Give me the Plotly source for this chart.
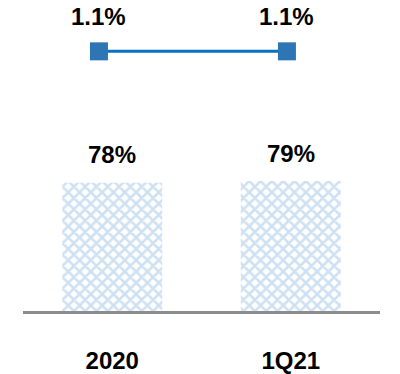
import plotly.graph_objects as go

categories = ["2020", "1Q21"]
bar_values = [78, 79]
bar_labels = ["78%", "79%"]
line_values = [1.1, 1.1]
line_labels = ["1.1%", "1.1%"]

FONT = "Liberation Sans"

fig = go.Figure()
fig.add_trace(go.Bar(
    x=categories, y=bar_values, width=0.56,
    marker=dict(color="white", line=dict(width=0),
                pattern=dict(shape="x", fgcolor="#9DC3E6", bgcolor="white", size=8, solidity=0.55)),
    hoverinfo="skip", xaxis="x", yaxis="y"))
fig.add_trace(go.Scatter(
    x=[0, 1], y=line_values, mode="lines+markers",
    line=dict(color="#0A70C0", width=3),
    marker=dict(symbol="square", size=18, color="#2E75B6"),
    xaxis="x2", yaxis="y2"))

for i, (v, t) in enumerate(zip(bar_values, bar_labels)):
    fig.add_annotation(x=i, y=v, text=f"<b>{t}</b>", showarrow=False, xref="x", yref="y",
                       yanchor="middle", yshift=28, font=dict(family=FONT, size=24, color="black"))
for i, (v, t) in enumerate(zip(line_values, line_labels)):
    fig.add_annotation(x=i, y=v, text=f"<b>{t}</b>", showarrow=False, xref="x2", yref="y2",
                       yanchor="middle", yshift=35, font=dict(family=FONT, size=24, color="black"))

fig.update_layout(
    width=400, height=374, showlegend=False,
    paper_bgcolor="white", plot_bgcolor="white",
    margin=dict(l=23, r=20, t=0, b=59),
    bargap=0.44,
    xaxis=dict(type="category", range=[-0.5, 1.5], showline=True, linecolor="#8C8C8C", linewidth=2.5,
               showgrid=False, zeroline=False, ticks="outside", ticklen=26, tickcolor="rgba(0,0,0,0)",
               tickfont=dict(family=FONT, size=24, color="black"),
               tickvals=categories, ticktext=[f"<b>{c}</b>" for c in categories]),
    yaxis=dict(range=[0, 189], visible=False, showgrid=False, zeroline=False),
    xaxis2=dict(range=[-0.404, 1.495], overlaying="x", visible=False, showgrid=False, zeroline=False),
    yaxis2=dict(range=[0, 1.3175], overlaying="y", visible=False, showgrid=False, zeroline=False),
)

fig.write_html("out.html")
